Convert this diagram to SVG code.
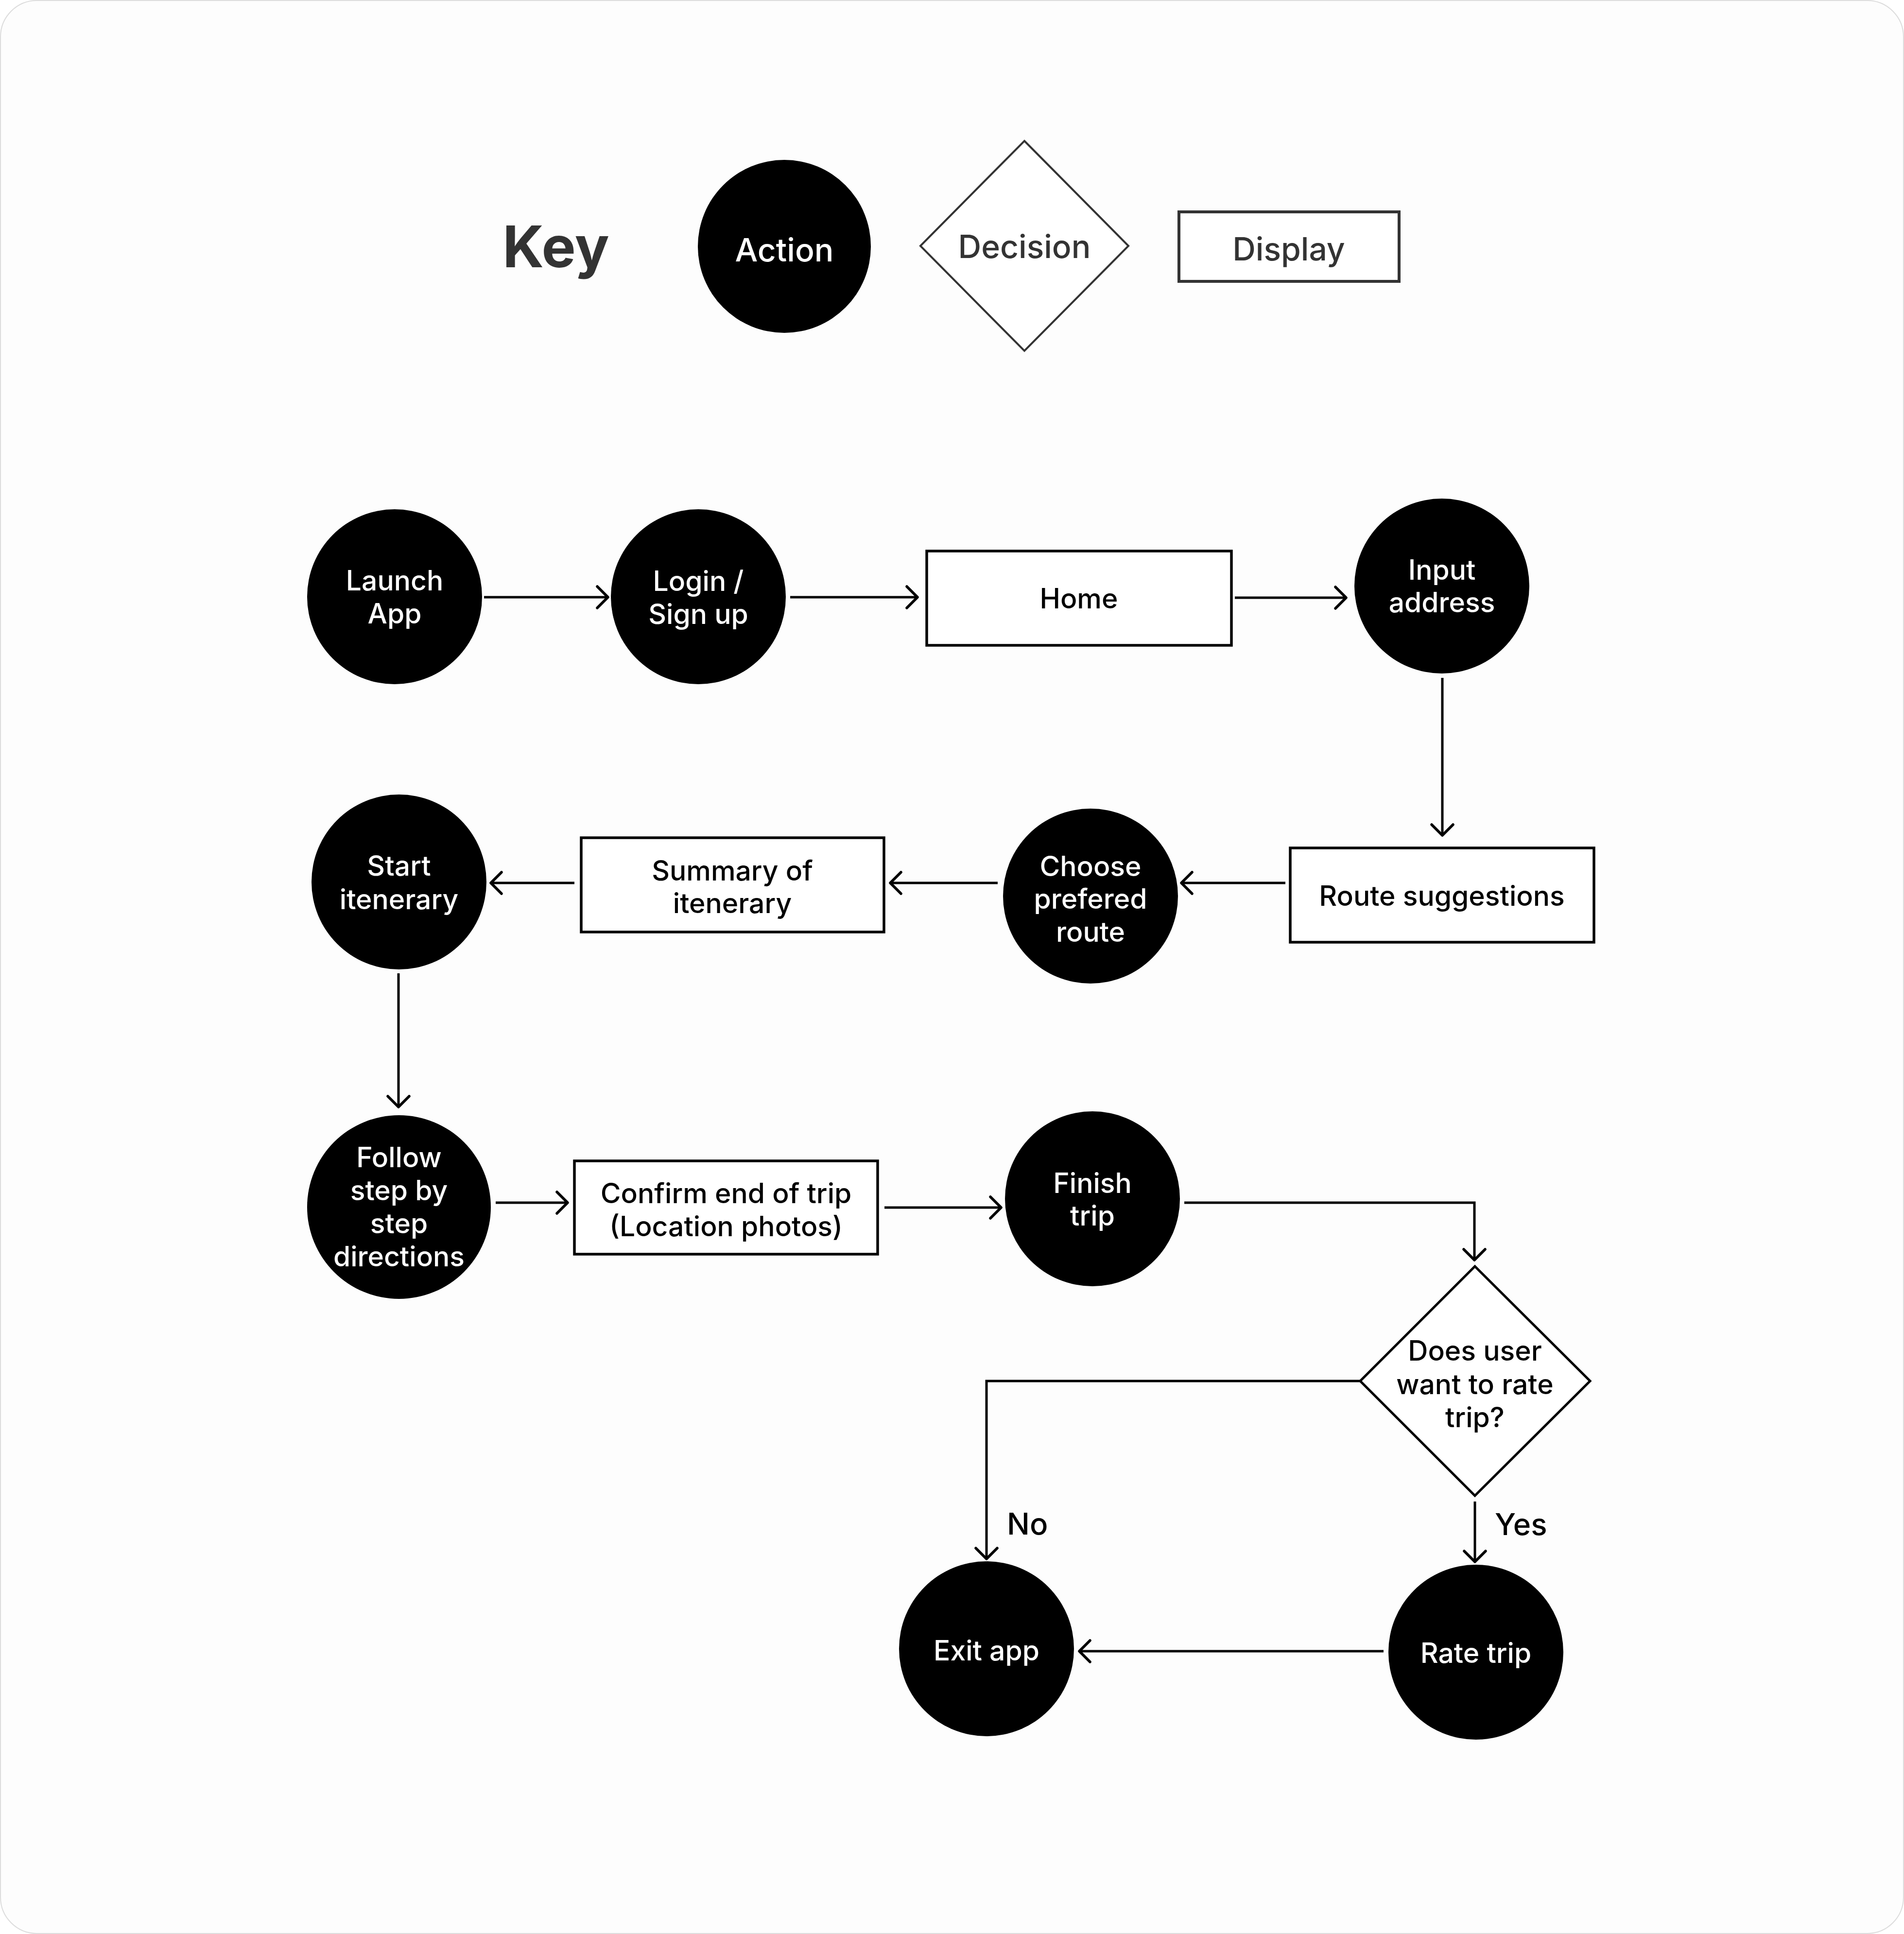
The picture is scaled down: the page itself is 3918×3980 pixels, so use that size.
<svg xmlns="http://www.w3.org/2000/svg" width="3918" height="3980" viewBox="0 0 3918 3980">
<style>
text{font-family:Inter,"Noto Sans","Liberation Sans",sans-serif;text-anchor:middle;font-weight:500}
.act{fill:#000}
.at{fill:#fff;font-size:57px}
.dt{fill:#000;font-size:57px}
.box{fill:#fff;stroke:#000;stroke-width:5.5}
.kt{fill:#333;font-size:66px}
.conn{fill:none;stroke:#000;stroke-width:5;marker-end:url(#arr)}
.lbl{fill:#000;font-size:62px;text-anchor:start}
</style>
<defs>
<marker id="arr" markerUnits="userSpaceOnUse" viewBox="-30 -30 40 60" markerWidth="40" markerHeight="60" refX="0" refY="0" orient="auto">
<path d="M-22,-22 L0,0 L-22,22" fill="none" stroke="#000" stroke-width="5.5" stroke-linecap="round" stroke-linejoin="round"/>
</marker>
</defs>
<rect x="1" y="1" width="3916" height="3978" rx="75" fill="#fdfdfd" stroke="#dcdcdc" stroke-width="2"/>

<g id="key">
<text x="1144" y="550" style="font-size:118px;font-weight:700;fill:#333">Key</text>
<g id="key-action"><circle cx="1614" cy="507" r="178" class="act"/><text x="1614" y="538" style="fill:#fff;font-size:66px">Action</text></g>
<g id="key-decision"><polygon points="2108,290 2322,506 2108,722 1894,506" fill="#fff" stroke="#333" stroke-width="4"/><text x="2108" y="531" class="kt">Decision</text></g>
<g id="key-display"><rect x="2426" y="436" width="453" height="143" fill="#fff" stroke="#333" stroke-width="6"/><text x="2652" y="536" class="kt">Display</text></g>
</g>

<g id="connectors">
<path class="conn" d="M996,1229 H1251"/>
<path class="conn" d="M1626,1229 H1888"/>
<path class="conn" d="M2541,1230 H2770"/>
<path class="conn" d="M2968,1395 V1719"/>
<path class="conn" d="M2645,1817 H2431"/>
<path class="conn" d="M2053,1817 H1832"/>
<path class="conn" d="M1182,1817 H1010"/>
<path class="conn" d="M820,2003 V2278"/>
<path class="conn" d="M1020,2475 H1168"/>
<path class="conn" d="M1820,2485 H2060"/>
<path class="conn" d="M2437,2475 H3034 V2593"/>
<path class="conn" d="M2799,2842 H2030 V3208"/>
<path class="conn" d="M3035,3090 V3214"/>
<path class="conn" d="M2847,3398 H2221"/>
<text x="2072" y="3158" class="lbl">No</text>
<text x="3076" y="3159" class="lbl">Yes</text>
</g>

<g id="launch-app"><circle cx="812" cy="1228" r="180" class="act"/><text class="at" x="812" y="1215">Launch</text><text class="at" x="812" y="1283">App</text></g>
<g id="login"><circle cx="1437" cy="1228" r="180" class="act"/><text class="at" x="1437" y="1216">Login /</text><text class="at" x="1437" y="1284">Sign up</text></g>
<g id="home"><rect class="box" x="1907" y="1134" width="627" height="194"/><text class="dt" x="2220" y="1252">Home</text></g>
<g id="input-address"><circle cx="2967" cy="1206" r="180" class="act"/><text class="at" x="2967" y="1193">Input</text><text class="at" x="2967" y="1260">address</text></g>
<g id="route-suggestions"><rect class="box" x="2655" y="1745" width="625" height="194"/><text class="dt" x="2967" y="1864">Route suggestions</text></g>
<g id="choose-route"><circle cx="2244" cy="1844" r="180" class="act"/><text class="at" x="2244" y="1803">Choose</text><text class="at" x="2244" y="1870">prefered</text><text class="at" x="2244" y="1938">route</text></g>
<g id="summary"><rect class="box" x="1196" y="1724" width="623" height="194"/><text class="dt" x="1507" y="1812">Summary of</text><text class="dt" x="1507" y="1879">itenerary</text></g>
<g id="start-itenerary"><circle cx="821" cy="1815" r="180" class="act"/><text class="at" x="821" y="1802">Start</text><text class="at" x="821" y="1871">itenerary</text></g>
<g id="follow-steps"><circle cx="821" cy="2484" r="189" class="act"/><text class="at" x="821" y="2402">Follow</text><text class="at" x="821" y="2470">step by</text><text class="at" x="821" y="2538">step</text><text class="at" x="821" y="2606">directions</text></g>
<g id="confirm-end"><rect class="box" x="1182" y="2389" width="624" height="192"/><text class="dt" x="1494" y="2476">Confirm end of trip</text><text class="dt" x="1494" y="2544">(Location photos)</text></g>
<g id="finish-trip"><circle cx="2248" cy="2467" r="180" class="act"/><text class="at" x="2248" y="2455">Finish</text><text class="at" x="2248" y="2522">trip</text></g>
<g id="rate-decision"><polygon points="3035,2606 3272,2842 3035,3078 2799,2842" fill="#fff" stroke="#000" stroke-width="5"/><text class="dt" x="3035" y="2800">Does user</text><text class="dt" x="3035" y="2869">want to rate</text><text class="dt" x="3035" y="2937">trip?</text></g>
<g id="exit-app"><circle cx="2030" cy="3393" r="180" class="act"/><text class="at" x="2030" y="3417">Exit app</text></g>
<g id="rate-trip"><circle cx="3037" cy="3400" r="180" class="act"/><text class="at" x="3037" y="3422">Rate trip</text></g>
</svg>
